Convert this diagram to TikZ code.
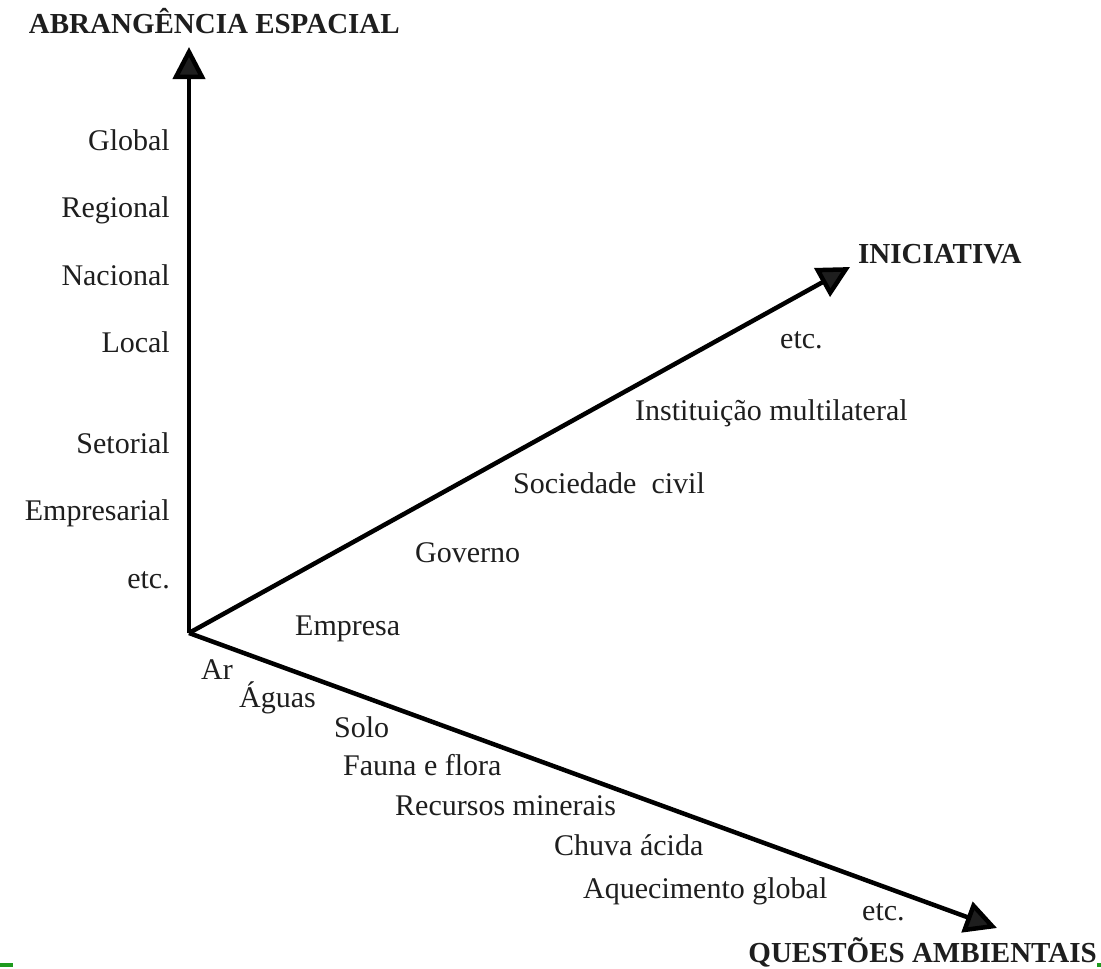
\documentclass[tikz,border=0pt]{standalone}
\usepackage{fontspec}
\setmainfont{Liberation Serif}
\usetikzlibrary{arrows.meta}
\definecolor{ink}{HTML}{1E1E1E}
\definecolor{rule}{HTML}{1E9A1E}
\tikzset{
  axis/.style={line width=4.5pt, draw=black, -{Triangle[length=32pt,width=32pt,fill=ink]}},
  lbl/.style={inner sep=0pt, text=ink, font=\fontsize{30}{36}\selectfont},
  lblr/.style={lbl, anchor=base east},
  lbll/.style={lbl, anchor=base west},
  ttl/.style={inner sep=0pt, text=ink, font=\fontsize{29}{35}\selectfont\bfseries},
}
\begin{document}
\begin{tikzpicture}[x=1pt,y=-1pt]
\useasboundingbox (0,0) rectangle (1101,969);
\fill[white] (0,0) rectangle (1101,969);
% green rule fragments
\fill[rule] (0,963) rectangle (13,967);
\fill[rule] (1097,963) rectangle (1101,967);

\coordinate (O) at (189,633);
\coordinate (tipA) at (189,47);
\coordinate (tipI) at (850,267);
\coordinate (tipQ) at (997,928);

\draw[axis] (O) -- (tipA);
\draw[axis] (O) -- (tipI);
\draw[axis] (O) -- (tipQ);

% titles
\node[ttl, anchor=base east] (tA) at (400,33) {ABRANGÊNCIA ESPACIAL};
\node[ttl, anchor=base west] (tI) at (858,263) {INICIATIVA};
\node[ttl, anchor=base east] (tQ) at (1097,962) {QUESTÕES AMBIENTAIS};

% vertical axis labels
\node[lblr] (a1) at (170,150) {Global};
\node[lblr] (a2) at (170,217) {Regional};
\node[lblr] (a3) at (170,285) {Nacional};
\node[lblr] (a4) at (170,352) {Local};
\node[lblr] (a5) at (170,453) {Setorial};
\node[lblr] (a6) at (170,520) {Empresarial};
\node[lblr] (a7) at (170,588) {etc.};

% iniciativa labels
\node[lbll] (i1) at (295,635) {Empresa};
\node[lbll] (i2) at (415,562) {Governo};
\node[lbll] (i3) at (513,493) {Sociedade\ \ civil};
\node[lbll] (i4) at (635,420) {Instituição multilateral};
\node[lbll] (i5) at (780,348) {etc.};

% questoes labels
\node[lbll] (q1) at (201,679) {Ar};
\node[lbll] (q2) at (239,707) {Águas};
\node[lbll] (q3) at (334,737) {Solo};
\node[lbll] (q4) at (343,775) {Fauna e flora};
\node[lbll] (q5) at (395,815) {Recursos minerais};
\node[lbll] (q6) at (554,855) {Chuva ácida};
\node[lbll] (q7) at (583,898) {Aquecimento global};
\node[lbll] (q8) at (862,920) {etc.};
\end{tikzpicture}
\end{document}
